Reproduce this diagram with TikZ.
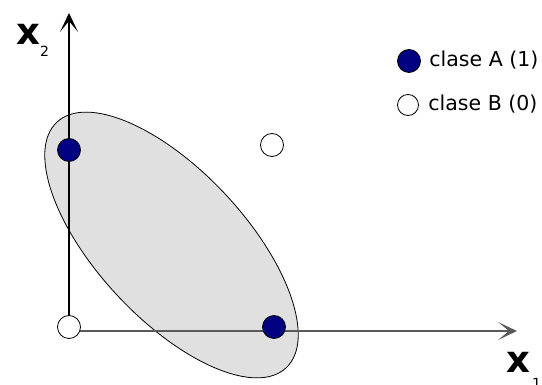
\documentclass[tikz,border=0pt]{standalone}
\usepackage{fontspec}
\setmainfont{DejaVu Sans}
\usetikzlibrary{positioning,shapes.geometric,arrows.meta}

\definecolor{claseA}{RGB}{0,0,128}
\definecolor{regionfill}{RGB}{224,224,224}
\definecolor{axisgray}{RGB}{90,90,90}

\begin{document}
\begin{tikzpicture}[x=1pt, y=-1pt, >={Stealth[length=19pt,width=18pt,inset=11pt]},
  pointA/.style={draw, circle, fill=claseA, minimum size=23pt, inner sep=0pt, line width=0.8pt},
  pointB/.style={draw, circle, fill=white, minimum size=23pt, inner sep=0pt, line width=0.8pt},
  region/.style={draw, ellipse, fill=regionfill, line width=0.8pt, inner sep=0pt},
  axislbl/.style={anchor=base west, inner sep=0pt, font=\fontsize{37}{37}\selectfont\bfseries},
  sublbl/.style={anchor=base west, inner sep=0pt, font=\fontsize{14}{14}\selectfont},
  legend/.style={font=\fontsize{20.5}{23}\selectfont}]
  \useasboundingbox (0,0) rectangle (542,385);

  % region of class A
  \node[region, rotate=-47, minimum width=336pt, minimum height=148pt] (reg) at (171.5,245) {};

  % axes
  \coordinate (O) at (69,331);
  \coordinate (ytip) at (69,13);
  \coordinate (xtip) at (517,331);
  \draw[->, axisgray, line width=1.5pt] (O) -- (xtip);
  \draw[->, line width=1.1pt] (O) -- (ytip);

  \node[axislbl] (xtwo) at (16,45) {x};
  \node[sublbl] (subtwo) at (40,57) {2};
  \node[axislbl] (xone) at (506,373) {x};
  \node[sublbl] (subone) at (532,389) {1};

  % points
  \node[pointA] (p01) at (69,150) {};
  \node[pointA] (p10) at (274,327) {};
  \node[pointB] (p00) at (69,327) {};
  \node[pointB] (p11) at (272,145) {};

  % legend
  \node[pointA] (legA) at (409,61) {};
  \node[legend, right=5pt of legA, yshift=1pt] (txtA) {clase A (1)};
  \node[pointB, minimum size=21pt] (legB) at (408,105) {};
  \node[legend, right=6pt of legB, yshift=1pt] (txtB) {clase B (0)};
\end{tikzpicture}
\end{document}
